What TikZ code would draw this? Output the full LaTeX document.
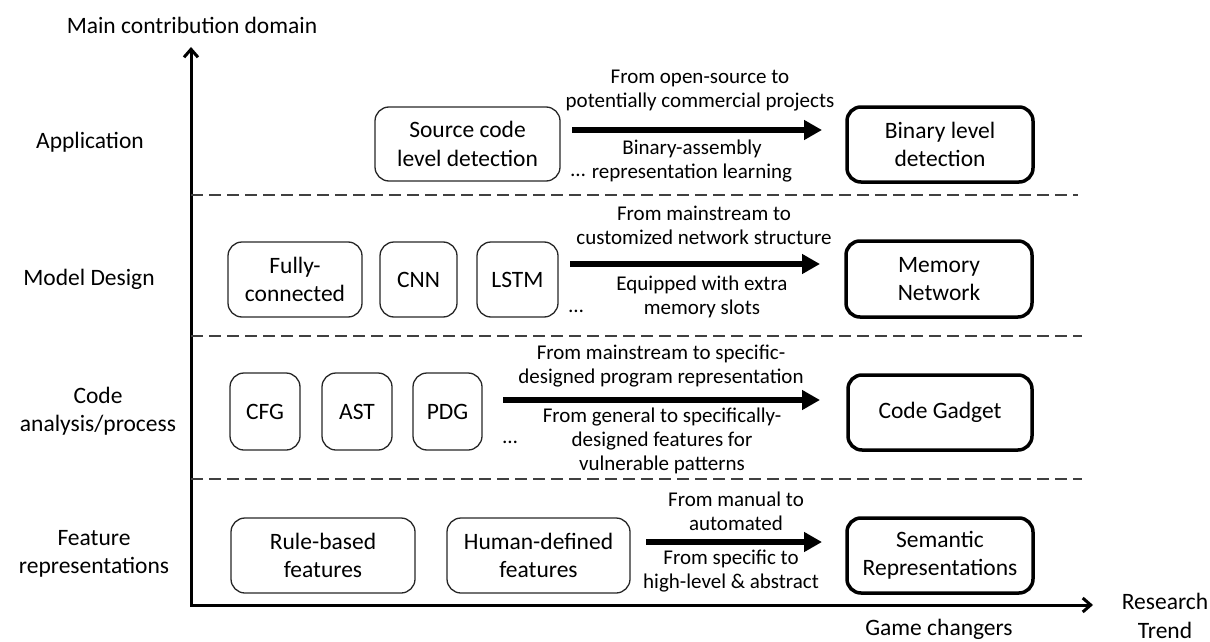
\documentclass[tikz,border=0pt]{standalone}
\usepackage{fontspec}
\setmainfont{Carlito}
\usetikzlibrary{arrows.meta,calc}
\newcommand\boxfont{\fontsize{23.5}{28.5}\selectfont}
\newcommand\lblfont{\fontsize{21}{24}\selectfont}
\begin{document}
\begin{tikzpicture}[x=1pt,y=-1pt,
  box/.style={draw=black!85, line width=1.3pt, rounded corners=14pt,
    align=center, font=\boxfont, inner sep=0pt, minimum height=75pt},
  goal/.style={box, draw=black, line width=3.5pt},
  lbl/.style={align=center, font=\lblfont, inner sep=0pt},
  axislabel/.style={align=center, font=\boxfont, inner sep=0pt},
  dotsnode/.style={font=\lblfont, inner sep=0pt},
  bigarrow/.style={line width=6.5pt, -{Triangle[length=18pt,width=19pt]}},
  axisline/.style={line width=3pt, {Straight Barb[length=8pt,width=14pt]}-{Straight Barb[length=8pt,width=14pt]}},
  sep/.style={draw=black!75, line width=1.3pt, dash pattern=on 12pt off 6pt}]
\useasboundingbox (0,0) rectangle (1210,642);

% axes
\coordinate (ytop) at (191,47);
\coordinate (origin) at (191,605);
\coordinate (xend) at (1093,605);
\draw[axisline] (ytop) -- (origin) -- (xend);
\node[axislabel] (ytitle) at (192,25) {Main contribution domain};
\node[axislabel] (xtitle) at (1165,616) {Research\\Trend};
\node[axislabel] (gc) at (939,629) {Game changers};

% row separators
\draw[sep] (191,195) -- (1078,195);
\draw[sep] (191,336) -- (1082,336);
\draw[sep] (191,479) -- (1082,479);

% row titles
\node[axislabel] (tapp) at (90,142) {Application};
\node[axislabel] (tmod) at (89,279) {Model Design};
\node[axislabel] (tcode) at (98,411) {Code\\analysis/process};
\node[axislabel] (tfeat) at (94,554) {Feature\\representations};

% application
\node[box, minimum width=185pt, minimum height=74pt] (src) at (467.5,144) {Source code\\level detection};
\node[goal, minimum width=186pt] (bin) at (940,144.5) {Binary level\\detection};
\coordinate (a1s) at (572,130);
\coordinate (a1e) at (822,130);
\draw[bigarrow] (a1s) -- (a1e);
\node[lbl] (l1a) at (700,90.5) {From open-source to\\potentially commercial projects};
\node[lbl] (l1b) at (692,161) {Binary-assembly\\representation learning};
\node[dotsnode] (d1) at (578,175) {…};

% model design
\node[box, minimum width=134pt] (fc) at (295,279.5) {Fully-\\connected};
\node[box, minimum width=77pt] (cnn) at (418.5,279.5) {CNN};
\node[box, minimum width=81pt] (lstm) at (517.5,279.5) {LSTM};
\node[goal, minimum width=186pt, minimum height=76pt] (mem) at (939,279) {Memory\\Network};
\coordinate (a2s) at (570,264);
\coordinate (a2e) at (820,264);
\draw[bigarrow] (a2s) -- (a2e);
\node[lbl] (l2a) at (704,225) {From mainstream to\\customized network structure};
\node[lbl] (l2b) at (702,297) {Equipped with extra\\memory slots};
\node[dotsnode] (d2) at (576,311) {…};

% code analysis
\node[box, minimum width=70pt, minimum height=77pt] (cfg) at (265,411.5) {CFG};
\node[box, minimum width=70pt, minimum height=77pt] (ast) at (357,411.5) {AST};
\node[box, minimum width=69pt, minimum height=77pt] (pdg) at (447.5,411.5) {PDG};
\node[goal, minimum width=184pt] (gad) at (940,412.5) {Code Gadget};
\coordinate (a3s) at (503,400);
\coordinate (a3e) at (820,400);
\draw[bigarrow] (a3s) -- (a3e);
\node[lbl] (l3a) at (661,366.5) {From mainstream to specific-\\designed program representation};
\node[lbl] (l3b) at (662,441) {From general to specifically-\\designed features for\\vulnerable patterns};
\node[dotsnode] (d3) at (510,442) {…};

% feature representations
\node[box, minimum width=184pt] (rule) at (323,555.5) {Rule-based\\features};
\node[box, minimum width=183pt] (human) at (538.5,555.5) {Human-defined\\features};
\node[goal, minimum width=186pt] (sem) at (940,555.5) {Semantic\\Representations};
\coordinate (a4s) at (646,542);
\coordinate (a4e) at (822,542);
\draw[bigarrow] (a4s) -- (a4e);
\node[lbl] (l4a) at (736,511) {From manual to\\automated};
\node[lbl] (l4b) at (731,571.5) {From specific to\\high-level \& abstract};
\end{tikzpicture}
\end{document}
